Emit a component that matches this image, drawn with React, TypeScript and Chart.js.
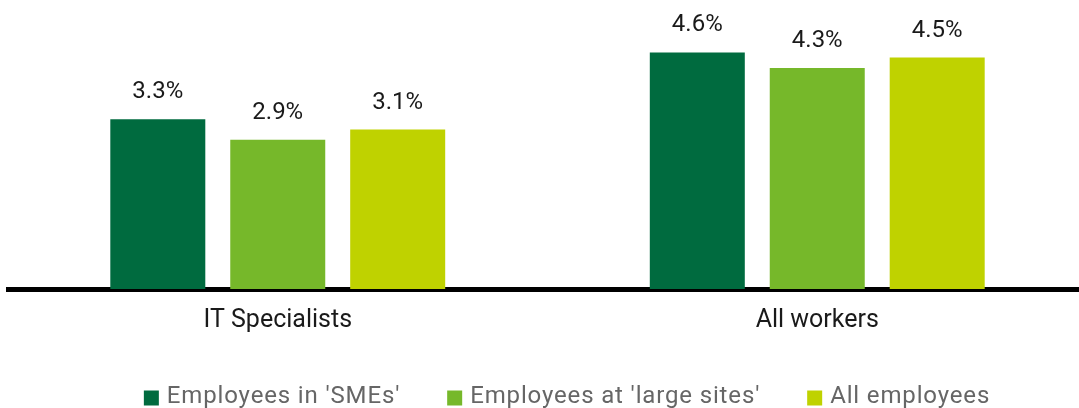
import React, { useEffect, useRef } from 'react';
import { Chart, registerables } from 'chart.js';

Chart.register(...registerables);

const categories = ['IT Specialists', 'All workers'];
const seriesNames = ["Employees in 'SMEs'", "Employees at 'large sites'", 'All employees'];
const smeValues = [3.3, 4.6];
const largeSiteValues = [2.9, 4.3];
const allEmployeeValues = [3.1, 4.5];
const seriesColors = ['#006B3F', '#76B82A', '#BFD200'];

const FONT = 'Roboto';

const valueLabels = {
  id: 'valueLabels',
  afterDatasetsDraw(chart: any) {
    const ctx = chart.ctx;
    ctx.save();
    ctx.font = `24px ${FONT}`;
    ctx.fillStyle = '#1a1a1a';
    ctx.textAlign = 'center';
    ctx.textBaseline = 'alphabetic';
    chart.data.datasets.forEach((ds: any, i: number) => {
      const meta = chart.getDatasetMeta(i);
      meta.data.forEach((el: any, j: number) => {
        ctx.fillText(Number(ds.data[j]).toFixed(1) + '%', el.x, el.y - 21);
      });
    });
    ctx.restore();
  },
};

// Legend row drawn from the chart's datasets (labels and colours)
const legendRow = {
  id: 'legendRow',
  afterDraw(chart: any) {
    const ctx = chart.ctx;
    const box = 15;
    const boxGap = 8;
    const itemGap = 47;
    const centerX = 567;
    const midY = 397;
    ctx.save();
    ctx.font = `24px ${FONT}`;
    try { (ctx as any).letterSpacing = '0.85px'; } catch (e) { /* ignore */ }
    ctx.textBaseline = 'middle';
    ctx.textAlign = 'left';
    const items = chart.data.datasets.map((ds: any) => ({
      label: ds.label,
      color: ds.backgroundColor,
      w: ctx.measureText(ds.label).width,
    }));
    const total = items.reduce((s: number, it: any) => s + box + boxGap + it.w, 0) + itemGap * (items.length - 1);
    let x = centerX - total / 2;
    items.forEach((it: any) => {
      ctx.fillStyle = it.color;
      ctx.fillRect(x, midY - box / 2 + 1, box, box);
      x += box + boxGap;
      ctx.fillStyle = '#666';
      ctx.fillText(it.label, x, midY);
      x += it.w + itemGap;
    });
    ctx.restore();
  },
};

export default function App() {
  const ref = useRef<HTMLCanvasElement | null>(null);
  useEffect(() => {
    if (!ref.current) return;
    const values = [smeValues, largeSiteValues, allEmployeeValues];
    const chart = new Chart(ref.current, {
      type: 'bar',
      data: {
        labels: categories,
        datasets: seriesNames.map((name, i) => ({
          label: name,
          data: values[i],
          backgroundColor: seriesColors[i],
          borderWidth: 0,
          barPercentage: 0.792,
          categoryPercentage: 0.667,
        })),
      },
      options: {
        animation: false,
        responsive: true,
        maintainAspectRatio: false,
        layout: { padding: { left: 8, right: 0, top: 0, bottom: 63 } },
        scales: {
          x: {
            grid: { display: false },
            border: { display: true, color: '#000', width: 5 },
            ticks: { font: { family: FONT, size: 25, lineHeight: 1.2 }, color: '#1a1a1a', padding: 9 },
          },
          y: { display: false, min: 0, max: 5.62 },
        },
        plugins: {
          legend: { display: false },
          tooltip: { enabled: false },
        },
      },
      plugins: [valueLabels, legendRow],
    });
    return () => chart.destroy();
  }, []);
  return (
    <div style={{ position: 'fixed', left: 0, top: 0, width: 1079, height: 408, overflow: 'hidden', background: '#fff' }}>
      <div style={{ position: 'relative', width: 1087, height: 408 }}>
        <canvas ref={ref} />
      </div>
    </div>
  );
}
